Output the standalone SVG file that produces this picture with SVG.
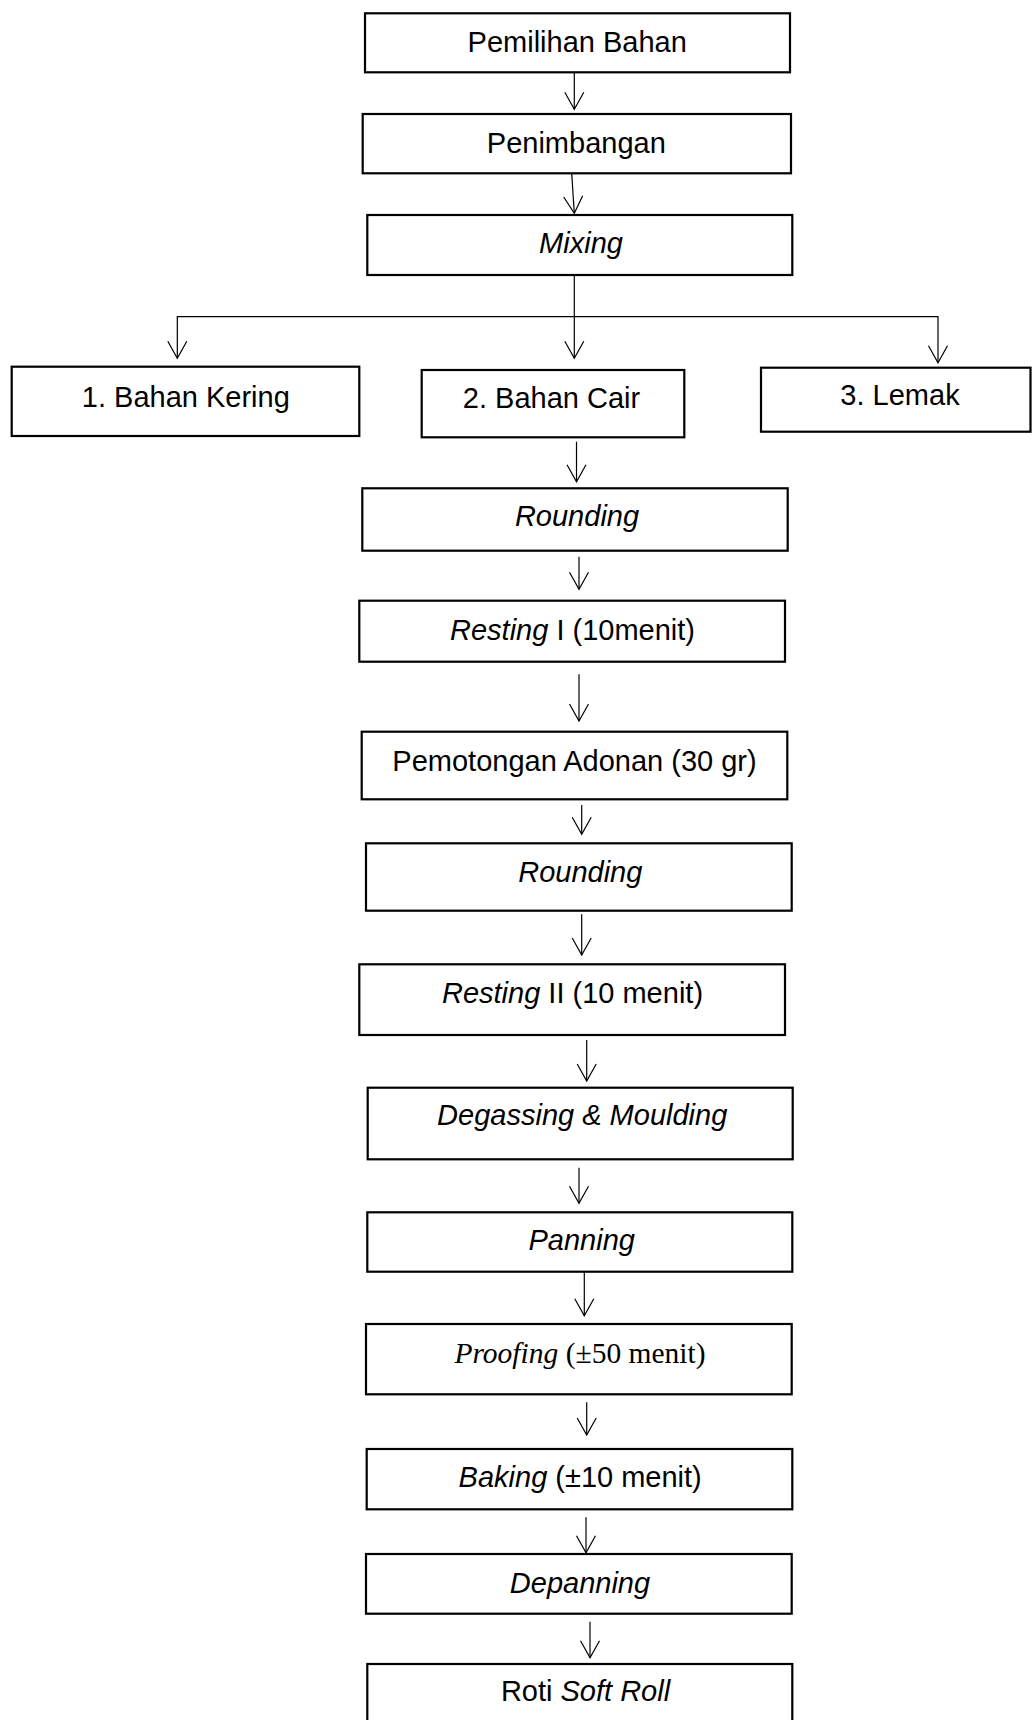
<svg xmlns="http://www.w3.org/2000/svg" width="1032" height="1720" viewBox="0 0 1032 1720">
<style>
.box{fill:#fff;stroke:#000;stroke-width:2.2}
.lbl{font-family:"Liberation Sans",Arial,sans-serif;font-size:29px;fill:#000;text-anchor:middle}
.tms{font-family:"Liberation Serif","Times New Roman",serif;font-size:29.5px;fill:#000;text-anchor:middle}
.it{font-style:italic}
.con{fill:none;stroke:#000;stroke-width:1.2}
</style>
<defs>
<marker id="ah" markerWidth="20" markerHeight="20" refX="0" refY="0" orient="auto" markerUnits="userSpaceOnUse" style="overflow:visible">
<path d="M-17,-9.5 L0,0 L-17,9.5" fill="none" stroke="#000" stroke-width="1.2"/>
</marker>
</defs>
<rect width="1032" height="1720" fill="#fff"/>
<g id="connectors">
<path class="con" d="M574.3,72.3 V109.3" marker-end="url(#ah)"/>
<path class="con" d="M571.7,173.3 L574.3,213.3" marker-end="url(#ah)"/>
<path class="con" d="M574.3,275 V358.3" marker-end="url(#ah)"/>
<path class="con" d="M574.3,316.7 H177.3 V358.3" marker-end="url(#ah)"/>
<path class="con" d="M574.3,316.7 H938 V362.7" marker-end="url(#ah)"/>
<path class="con" d="M576.5,441.7 V481.7" marker-end="url(#ah)"/>
<path class="con" d="M579,556.7 V589.3" marker-end="url(#ah)"/>
<path class="con" d="M579,674.3 V721" marker-end="url(#ah)"/>
<path class="con" d="M581.7,805 V834.3" marker-end="url(#ah)"/>
<path class="con" d="M581.7,914.3 V955" marker-end="url(#ah)"/>
<path class="con" d="M586.7,1040 V1081" marker-end="url(#ah)"/>
<path class="con" d="M579,1167.7 V1203.3" marker-end="url(#ah)"/>
<path class="con" d="M584.3,1271.7 V1315.7" marker-end="url(#ah)"/>
<path class="con" d="M586.7,1402.3 V1435" marker-end="url(#ah)"/>
<path class="con" d="M586,1517.3 V1552.7" marker-end="url(#ah)"/>
<path class="con" d="M590,1621.7 V1657.7" marker-end="url(#ah)"/>
</g>
<g id="pemilihan"><rect class="box" x="365" y="13.3" width="425" height="59"/><text class="lbl" x="577.2" y="52.3">Pemilihan Bahan</text></g>
<g id="penimbangan"><rect class="box" x="362.7" y="114" width="428.3" height="59.3"/><text class="lbl" x="576.3" y="152.7">Penimbangan</text></g>
<g id="mixing"><rect class="box" x="367.3" y="215" width="425" height="60"/><text class="lbl it" x="581" y="253.3">Mixing</text></g>
<g id="bahan-kering"><rect class="box" x="11.7" y="366.7" width="347.6" height="69.3"/><text class="lbl" x="185.8" y="406.7">1. Bahan Kering</text></g>
<g id="bahan-cair"><rect class="box" x="421.7" y="370" width="262.6" height="67.3"/><text class="lbl" x="551.5" y="408.3">2. Bahan Cair</text></g>
<g id="lemak"><rect class="box" x="761" y="367.7" width="269.5" height="64"/><text class="lbl" x="900" y="405">3. Lemak</text></g>
<g id="rounding1"><rect class="box" x="362.3" y="488.3" width="425.4" height="62.4"/><text class="lbl it" x="577" y="526">Rounding</text></g>
<g id="resting1"><rect class="box" x="359.3" y="600.7" width="425.7" height="61"/><text class="lbl" x="572.5" y="640"><tspan class="it">Resting</tspan> I (10menit)</text></g>
<g id="pemotongan"><rect class="box" x="361.7" y="731.7" width="425.6" height="67.6"/><text class="lbl" x="574.5" y="770.7">Pemotongan Adonan (30 gr)</text></g>
<g id="rounding2"><rect class="box" x="366" y="843.3" width="425.7" height="67.4"/><text class="lbl it" x="580.3" y="881.7">Rounding</text></g>
<g id="resting2"><rect class="box" x="359.3" y="964.3" width="425.7" height="70.7"/><text class="lbl" x="572.5" y="1003.3"><tspan class="it">Resting</tspan> II (10 menit)</text></g>
<g id="degassing"><rect class="box" x="367.7" y="1087.7" width="425" height="71.6"/><text class="lbl it" x="582.2" y="1125">Degassing &amp; Moulding</text></g>
<g id="panning"><rect class="box" x="367.3" y="1212.3" width="425" height="59.4"/><text class="lbl it" x="581.7" y="1250">Panning</text></g>
<g id="proofing"><rect class="box" x="366" y="1324" width="425.7" height="70.3"/><text class="tms" x="580" y="1363.3"><tspan class="it">Proofing</tspan> (±50 menit)</text></g>
<g id="baking"><rect class="box" x="366.7" y="1449" width="425.6" height="60.3"/><text class="lbl" x="580.2" y="1486.7"><tspan class="it">Baking</tspan> (±10 menit)</text></g>
<g id="depanning"><rect class="box" x="366" y="1554" width="425.7" height="59.7"/><text class="lbl it" x="580" y="1592.7">Depanning</text></g>
<g id="roti"><rect class="box" x="367.3" y="1664" width="425" height="70"/><text class="lbl" x="585.5" y="1700.7">Roti <tspan class="it">Soft Roll</tspan></text></g>
</svg>
